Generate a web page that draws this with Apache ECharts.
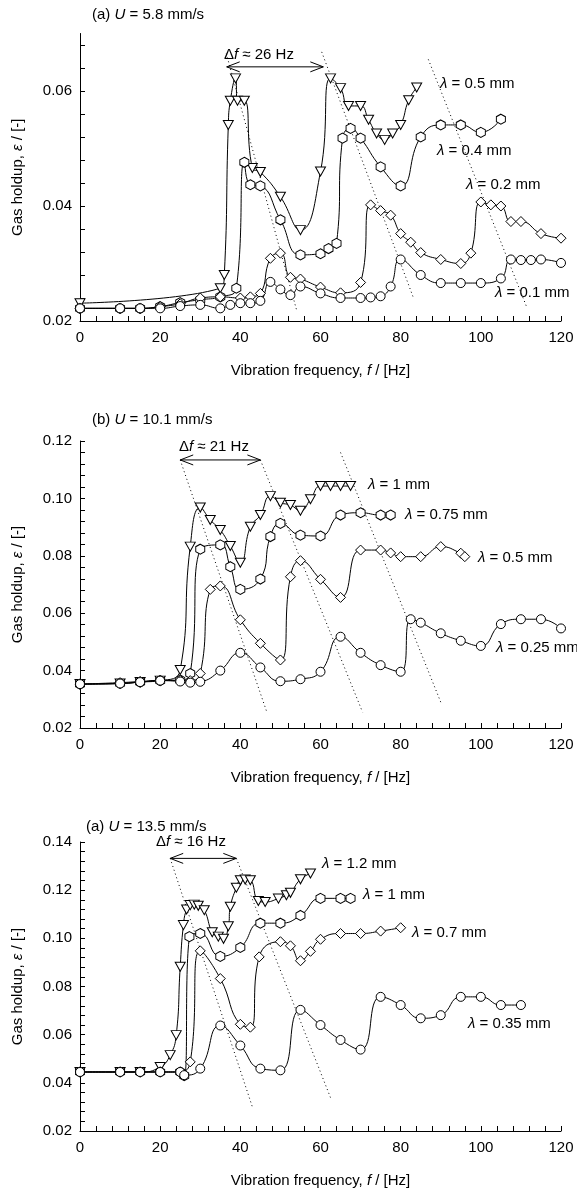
<!DOCTYPE html>
<html>
<head>
<meta charset="utf-8">
<script src="https://cdn.jsdelivr.net/npm/echarts@6/dist/echarts.min.js"></script>
<style>
html, body { margin: 0; padding: 0; background: #fff; }
#main { width: 577px; height: 1190px; }
</style>
</head>
<body>
<div id="main"></div>
<script>
// ---- data (f in Hz, gas holdup eps) ----
// panel (a) U = 5.8 mm/s
var a_l05 = [[0,0.0231],[35,0.0257],[36,0.028],[37,0.0541],[37.5,0.0583],[38.8,0.0622],[39.3,0.0583],[41,0.0583],[43,0.0466],[45,0.0459],[50,0.0416],[55,0.0358],[60,0.046],[62.5,0.0622],[65,0.0605],[67,0.0574],[70,0.0574],[72,0.055],[74,0.0526],[76,0.0515],[78,0.0526],[80,0.0541],[82,0.0584],[84,0.0606]];
var a_l04 = [[0,0.0222],[10,0.0222],[15,0.0222],[20,0.0225],[25,0.0232],[30,0.0237],[35,0.0242],[39,0.0257],[41,0.0476],[42.5,0.0437],[45,0.0435],[50,0.0376],[55,0.0315],[60,0.0317],[62,0.0326],[64,0.0335],[65.5,0.0518],[67.5,0.0535],[70,0.0518],[75,0.0468],[80,0.0435],[85,0.052],[90,0.0541],[95,0.0541],[100,0.0528],[105,0.0551]];
var a_l02 = [[0,0.0222],[10,0.0222],[15,0.0222],[20,0.0225],[25,0.023],[30,0.024],[35,0.0242],[40,0.024],[42.5,0.0242],[45,0.0248],[47.5,0.0309],[50,0.0318],[52.5,0.0276],[55,0.0273],[60,0.0259],[65,0.0249],[70,0.0267],[72.5,0.0402],[75,0.0392],[77.5,0.0384],[80,0.0352],[82.5,0.0337],[85,0.0319],[90,0.0307],[95,0.03],[97.5,0.0318],[100,0.0407],[102.5,0.0402],[105,0.04],[107.5,0.0373],[110,0.0373],[115,0.0352],[120,0.0344]];
var a_l01 = [[0,0.0222],[10,0.0222],[15,0.0222],[20,0.0222],[25,0.0226],[30,0.0228],[35,0.0222],[37.5,0.0228],[40,0.0231],[42.5,0.0231],[45,0.0235],[47.5,0.0268],[50,0.0255],[52.5,0.0245],[55,0.026],[60,0.0248],[65,0.024],[70,0.024],[72.5,0.0241],[75,0.0243],[77.5,0.026],[80,0.0307],[85,0.028],[90,0.0266],[95,0.0266],[100,0.0266],[105,0.0274],[107.5,0.0307],[110,0.0306],[112.5,0.0306],[115,0.0307],[120,0.0301]];
var a_guides = [[[36.5,0.0665],[54,0.022]], [[60.3,0.0668],[83.2,0.024]], [[86.9,0.0655],[111.4,0.0225]]];
var a_arrow = [36.6, 60.7, 0.0642];

// panel (b) U = 10.1 mm/s
var b_l1 = [[0,0.0353],[10,0.0355],[15,0.036],[20,0.0365],[25,0.0402],[27.5,0.0832],[30,0.0968],[32.5,0.0925],[35,0.089],[37.5,0.0834],[40,0.0776],[42.5,0.0901],[45,0.0942],[47.5,0.1008],[50,0.0985],[52.5,0.0977],[55,0.0957],[57.5,0.0997],[60,0.1043],[62.5,0.1043],[65,0.1043],[67.5,0.1043]];
var b_l075 = [[0,0.0353],[10,0.0355],[15,0.036],[20,0.0365],[25,0.0367],[27.5,0.039],[30,0.0823],[35,0.0838],[37.5,0.0762],[40,0.0683],[45,0.0719],[47.5,0.0867],[50,0.0913],[55,0.0872],[60,0.0869],[65,0.0942],[70,0.095],[75,0.0942],[77.5,0.0942]];
var b_l05 = [[0,0.0353],[10,0.0358],[15,0.0362],[20,0.0366],[25,0.0366],[27.5,0.0365],[30,0.039],[32.5,0.0683],[35,0.0695],[40,0.0577],[45,0.0495],[50,0.0437],[52.5,0.0727],[55,0.0783],[60,0.0718],[65,0.0655],[70,0.082],[75,0.082],[77.5,0.081],[80,0.0797],[85,0.0797],[90,0.0832],[95,0.0809],[96,0.0797]];
var b_l025 = [[0,0.0353],[10,0.0355],[15,0.036],[20,0.0365],[25,0.0362],[27.5,0.0358],[30,0.0361],[35,0.04],[40,0.0462],[45,0.0411],[50,0.0363],[55,0.037],[60,0.0396],[65,0.0518],[70,0.0462],[75,0.0419],[80,0.0396],[82.5,0.0579],[85,0.0567],[90,0.053],[95,0.0504],[100,0.0486],[105,0.0562],[110,0.0579],[115,0.0579],[120,0.0547]];
var b_guides = [[[25,0.1134],[46.5,0.026]], [[45,0.1134],[70.5,0.0255]], [[65,0.116],[90,0.029]]];
var b_arrow = [25, 45, 0.1134];

// panel (a) U = 13.5 mm/s
var c_l12 = [[0,0.0445],[10,0.0445],[15,0.0445],[20,0.0466],[22.5,0.0515],[24,0.0598],[25,0.0882],[25.8,0.1055],[26.6,0.112],[27.5,0.1138],[28.5,0.114],[29.5,0.1135],[31,0.1117],[33,0.1025],[34.5,0.1007],[35.8,0.0998],[37,0.105],[37.5,0.1131],[39,0.121],[40,0.1241],[41.2,0.1244],[42.5,0.1241],[44.5,0.1155],[46.2,0.1151],[49.5,0.1165],[51.5,0.1179],[52.5,0.1189],[55,0.1245],[57.5,0.1269]];
var c_l1 = [[0,0.0445],[10,0.0445],[15,0.0445],[20,0.0445],[25,0.0445],[26,0.043],[27.3,0.1007],[30,0.102],[35,0.0925],[40,0.0962],[45,0.1063],[50,0.1063],[55,0.1095],[60,0.1166],[65,0.1166],[67.5,0.1166]];
var c_l07 = [[0,0.0445],[10,0.0445],[15,0.0445],[20,0.0445],[25,0.0445],[27.5,0.0487],[30,0.0948],[35,0.0833],[40,0.0643],[42.5,0.0631],[44.7,0.0923],[50,0.0986],[52.5,0.0969],[55,0.0907],[57.5,0.0946],[60,0.0996],[65,0.102],[70,0.102],[75,0.103],[80,0.1044]];
var c_l035 = [[0,0.0445],[10,0.0445],[15,0.0445],[20,0.0445],[25,0.0445],[26,0.0432],[30,0.0459],[35,0.0638],[40,0.0555],[45,0.0459],[50,0.0452],[55,0.0703],[60,0.064],[65,0.0578],[70,0.0538],[75,0.0757],[80,0.0723],[85,0.0668],[90,0.0681],[95,0.0757],[100,0.0757],[105,0.0723],[110,0.0723]];
var c_guides = [[[22.5,0.1332],[43,0.03]], [[39,0.1332],[62.7,0.033]]];
var c_arrow = [22.5, 39, 0.1332];

// axis ticks / labels
var xLabels = [0, 20, 40, 60, 80, 100, 120];
var xTicks = [0,4,8,12,16,20,24,28,32,36,40,44,48,52,56,60,64,68,72,76,80,84,88,92,96,100,104,108,112,116,120];
var yLabelsA = [0.02, 0.04, 0.06];
var yLabelsB = [0.02, 0.04, 0.06, 0.08, 0.10, 0.12];
var yLabelsC = [0.02, 0.04, 0.06, 0.08, 0.10, 0.12, 0.14];
var yTicksA = [0.02,0.024,0.028,0.032,0.036,0.04,0.044,0.048,0.052,0.056,0.06,0.064,0.068];
var yTicksB = [0.02,0.024,0.028,0.032,0.036,0.04,0.044,0.048,0.052,0.056,0.06,0.064,0.068,0.072,0.076,0.08,0.084,0.088,0.092,0.096,0.1,0.104,0.108,0.112,0.116,0.12];
var yTicksC = [0.02,0.024,0.028,0.032,0.036,0.04,0.044,0.048,0.052,0.056,0.06,0.064,0.068,0.072,0.076,0.08,0.084,0.088,0.092,0.096,0.1,0.104,0.108,0.112,0.116,0.12,0.124,0.128,0.132,0.136,0.14];

var FONT = "'Liberation Sans', Arial, sans-serif";
var HEX = 'path://M0,-10L8.66,-5L8.66,5L0,10L-8.66,5L-8.66,-5Z';
var SYM = {
    tri: { s: 'triangle', size: [10, 9], rot: 180 },
    hex: { s: HEX, size: [9, 10], rot: 0 },
    dia: { s: 'diamond', size: [10, 10], rot: 0 },
    cir: { s: 'circle', size: 9, rot: 0 }
};
var rich = {
    i: { fontStyle: 'italic', fontSize: 15, fontFamily: FONT, color: '#000' }
};

var myChart = echarts.init(document.getElementById('main'), null, { renderer: 'canvas' });

function xAxisOf(k) {
    return {
        type: 'value', gridIndex: k, min: 0, max: 120,
        axisLine: { lineStyle: { color: '#000', width: 1 } },
        axisTick: { inside: true, length: 5, customValues: xTicks, lineStyle: { color: '#000' } },
        axisLabel: { customValues: xLabels, color: '#000', fontSize: 15, fontFamily: FONT, margin: 9 },
        splitLine: { show: false },
        name: 'Vibration frequency, {i|f} / [Hz]',
        nameLocation: 'middle', nameGap: 42,
        nameTextStyle: { color: '#000', fontSize: 15, fontFamily: FONT, rich: rich }
    };
}

function yAxisOf(k, min, max, labels, ticks) {
    return {
        type: 'value', gridIndex: k, min: min, max: max,
        axisLine: { show: true, lineStyle: { color: '#000', width: 1 } },
        axisTick: { show: true, inside: true, length: 5, customValues: ticks, lineStyle: { color: '#000' } },
        axisLabel: { customValues: labels, color: '#000', fontSize: 15, fontFamily: FONT, margin: 8,
            formatter: function (v) { return v.toFixed(2); } },
        splitLine: { show: false },
        name: 'Gas holdup, {i|ε} / [-]',
        nameLocation: 'middle', nameGap: 55,
        nameTextStyle: { color: '#000', fontSize: 15, fontFamily: FONT, rich: rich }
    };
}

function dataSeries(k, pts, sym) {
    return {
        type: 'line', xAxisIndex: k, yAxisIndex: k, data: pts,
        smooth: 0.5, symbol: sym.s, symbolSize: sym.size, symbolRotate: sym.rot,
        showAllSymbol: true, silent: true, z: 3,
        lineStyle: { color: '#000', width: 1 },
        itemStyle: { color: '#fff', borderColor: '#000', borderWidth: 1 }
    };
}

function guideSeries(k, pts) {
    return {
        type: 'line', xAxisIndex: k, yAxisIndex: k, data: pts,
        symbol: 'none', silent: true, z: 1,
        lineStyle: { color: '#000', width: 1, type: [1, 3] }
    };
}

// double headed arrow with open heads
function arrowItem(params, api) {
    var a = api.coord([api.value(0), api.value(2)]);
    var b = api.coord([api.value(1), api.value(2)]);
    var h = 13, w = 5;
    var st = { stroke: '#000', fill: null, lineWidth: 1 };
    return {
        type: 'group',
        children: [
            { type: 'line', shape: { x1: a[0], y1: a[1], x2: b[0], y2: b[1] }, style: st },
            { type: 'polyline', shape: { points: [[a[0] + h, a[1] - w], [a[0], a[1]], [a[0] + h, a[1] + w]] }, style: st },
            { type: 'polyline', shape: { points: [[b[0] - h, b[1] - w], [b[0], b[1]], [b[0] - h, b[1] + w]] }, style: st }
        ]
    };
}

function arrowSeries(k, arr) {
    return {
        type: 'custom', xAxisIndex: k, yAxisIndex: k, data: [arr],
        renderItem: arrowItem, clip: false, silent: true, z: 4,
        encode: { x: [0, 1], y: 2 }
    };
}

function txt(s, left, top) {
    return {
        text: s, left: left, top: top, padding: 0,
        textStyle: { color: '#000', fontSize: 15, fontWeight: 'normal', fontFamily: FONT, rich: rich }
    };
}

var series = [];
a_guides.forEach(function (g) { series.push(guideSeries(0, g)); });
b_guides.forEach(function (g) { series.push(guideSeries(1, g)); });
c_guides.forEach(function (g) { series.push(guideSeries(2, g)); });
series.push(dataSeries(0, a_l05, SYM.tri));
series.push(dataSeries(0, a_l04, SYM.hex));
series.push(dataSeries(0, a_l02, SYM.dia));
series.push(dataSeries(0, a_l01, SYM.cir));
series.push(dataSeries(1, b_l1, SYM.tri));
series.push(dataSeries(1, b_l075, SYM.hex));
series.push(dataSeries(1, b_l05, SYM.dia));
series.push(dataSeries(1, b_l025, SYM.cir));
series.push(dataSeries(2, c_l12, SYM.tri));
series.push(dataSeries(2, c_l1, SYM.hex));
series.push(dataSeries(2, c_l07, SYM.dia));
series.push(dataSeries(2, c_l035, SYM.cir));
series.push(arrowSeries(0, a_arrow));
series.push(arrowSeries(1, b_arrow));
series.push(arrowSeries(2, c_arrow));

var option = {
    backgroundColor: '#fff',
    animation: false,
    title: [
        txt('(a) {i|U} = 5.8 mm/s', 92, 7),
        txt('(b) {i|U} = 10.1 mm/s', 92, 412),
        txt('(a) {i|U} = 13.5 mm/s', 86, 819),
        txt('Δ{i|f} ≈ 26 Hz', 224, 47),
        txt('Δ{i|f} ≈ 21 Hz', 179, 439),
        txt('Δ{i|f} ≈ 16 Hz', 156, 834),
        txt('{i|λ} = 0.5 mm', 440, 76),
        txt('{i|λ} = 0.4 mm', 437, 143),
        txt('{i|λ} = 0.2 mm', 466, 177),
        txt('{i|λ} = 0.1 mm', 495, 285),
        txt('{i|λ} = 1 mm', 368, 477),
        txt('{i|λ} = 0.75 mm', 405, 507),
        txt('{i|λ} = 0.5 mm', 478, 550),
        txt('{i|λ} = 0.25 mm', 496, 640),
        txt('{i|λ} = 1.2 mm', 322, 856),
        txt('{i|λ} = 1 mm', 363, 887),
        txt('{i|λ} = 0.7 mm', 412, 925),
        txt('{i|λ} = 0.35 mm', 468, 1016)
    ],
    grid: [
        { left: 80, top: 33.5, width: 481, height: 287.5 },
        { left: 80, top: 441, width: 481, height: 287 },
        { left: 80, top: 842, width: 481, height: 289 }
    ],
    xAxis: [xAxisOf(0), xAxisOf(1), xAxisOf(2)],
    yAxis: [
        yAxisOf(0, 0.02, 0.07, yLabelsA, yTicksA),
        yAxisOf(1, 0.02, 0.12, yLabelsB, yTicksB),
        yAxisOf(2, 0.02, 0.14, yLabelsC, yTicksC)
    ],
    series: series
};

myChart.setOption(option);
</script>
</body>
</html>
